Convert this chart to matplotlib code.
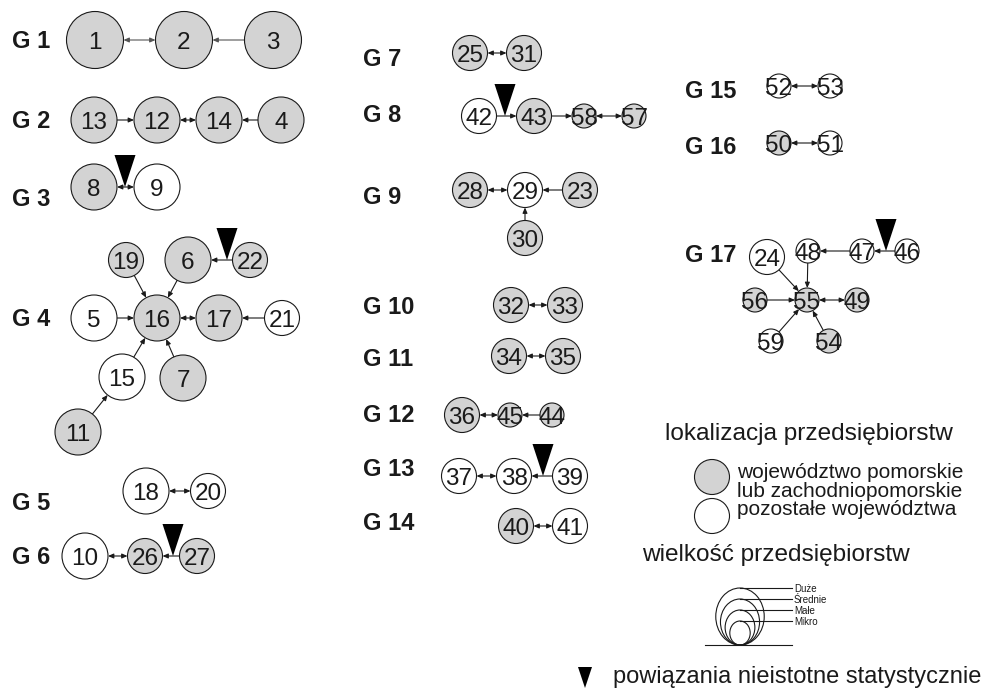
import numpy as np
import matplotlib
matplotlib.use("Agg")
import matplotlib.pyplot as plt
from matplotlib.patches import Circle, Ellipse, FancyArrowPatch, Polygon

plt.rcParams['font.family'] = ['Liberation Sans', 'DejaVu Sans']

# wezly sieci: numer, polozenie (px), wielkosc (D/S/M/K), woj. pomorskie lub zachodniopomorskie
node_id = [1, 2, 3,
           13, 12, 14, 4,
           8, 9,
           19, 6, 22, 5, 16, 17, 21, 15, 7, 11,
           18, 20,
           10, 26, 27,
           25, 31,
           42, 43, 58, 57,
           28, 29, 23, 30,
           32, 33,
           34, 35,
           36, 45, 44,
           37, 38, 39,
           40, 41,
           52, 53,
           50, 51,
           24, 48, 47, 46, 55, 56, 49, 59, 54]
node_x = [95, 184, 273,
          94, 157, 219, 281,
          94, 157,
          126, 188, 250, 94, 157, 219, 282, 122, 183, 78,
          146, 208,
          85, 145, 197,
          470, 524,
          479, 534, 584, 634,
          470, 525, 580, 525,
          511, 565,
          509, 563,
          462, 510, 552,
          459, 514, 570,
          516, 570,
          779, 830,
          779, 830,
          767, 808, 862, 907, 807, 755, 857, 771, 829]
node_y = [40, 40, 40,
          120, 120, 120, 120,
          187, 187,
          260, 260, 260, 318, 318, 318, 318, 377, 378, 432,
          491, 491,
          556, 556, 556,
          53, 53,
          116, 116, 116, 116,
          190, 190, 190, 238,
          305, 305,
          356, 356,
          415, 415, 415,
          476, 476, 476,
          526, 526,
          86, 86,
          143, 143,
          257, 251, 251, 251, 300, 300, 300, 341, 341]
node_size = list("DDD" "SSSS" "SS" "MSMSSSMSSS" "SM" "SMM" "MM" "MMKK" "MMMM"
                 "MM" "MM" "MKK" "MMM" "MM" "KK" "KK" "MKKKKKKKK")
node_pom = [1, 1, 1,
            1, 1, 1, 1,
            1, 0,
            1, 1, 1, 0, 1, 1, 0, 0, 1, 1,
            0, 0,
            0, 1, 1,
            1, 1,
            0, 1, 1, 1,
            1, 0, 1, 1,
            1, 1,
            1, 1,
            1, 1, 1,
            0, 0, 0,
            1, 0,
            0, 0,
            1, 0,
            0, 0, 0, 0, 1, 1, 1, 0, 1]

# powiazania: skad, dokad, czy dwustronne
edge_src = [1, 3, 13, 12, 4, 8, 19, 6, 22, 5, 16, 21, 15, 7, 11, 18, 10, 27,
            25, 42, 43, 58, 28, 23, 30, 32, 34, 36, 44, 37, 39, 40, 52, 50,
            46, 47, 48, 24, 56, 55, 59, 54]
edge_dst = [2, 2, 12, 14, 14, 9, 16, 16, 6, 16, 17, 17, 16, 16, 15, 20, 26, 26,
            31, 43, 58, 57, 29, 29, 29, 33, 35, 45, 45, 38, 38, 41, 53, 51,
            47, 48, 55, 55, 55, 49, 55, 55]
edge_both = [1, 0, 0, 1, 0, 1, 0, 0, 0, 0, 1, 0, 0, 0, 0, 1, 1, 0,
             1, 0, 0, 1, 1, 0, 0, 1, 1, 1, 0, 1, 0, 1, 1, 1,
             0, 0, 0, 0, 0, 1, 0, 0]

# powiazania nieistotne statystycznie (miedzy wezlami)
weak_pairs = [(8, 9), (22, 6), (27, 26), (42, 43), (39, 38), (46, 47)]
weak_x = [125, 227, 173, 505, 543, 886]

group_names = ["G 1", "G 2", "G 3", "G 4", "G 5", "G 6",
               "G 7", "G 8", "G 9", "G 10", "G 11", "G 12", "G 13", "G 14",
               "G 15", "G 16", "G 17"]
group_x = [12] * 6 + [363] * 8 + [685] * 3
group_y = [40, 120, 198, 318, 502, 555,
           58, 113, 195, 305, 358, 413, 468, 522,
           90, 145, 254]

size_names = ["Duże", "Średnie", "Małe", "Mikro"]
size_codes = ["D", "S", "M", "K"]
size_radius = [28.5, 23, 17.5, 12]

GRAY = "#d3d3d3"
INK = "#1a1a1a"
PX = 100 / 72


def put_text(ax, x, y, s, size, **kw):
    # y = srodek wersalikow
    ax.text(x, y + 0.36 * size * PX, s, fontsize=size, va="baseline", color=INK, **kw)


fig = plt.figure(figsize=(9.92, 6.98), dpi=100)
ax = fig.add_axes([0, 0, 1, 1])
ax.set_xlim(0, 992)
ax.set_ylim(698, 0)
ax.axis("off")

rad = dict(zip(size_codes, size_radius))
pos = {n: (x, y, rad[s]) for n, x, y, s in zip(node_id, node_x, node_y, node_size)}

for a, b, both in zip(edge_src, edge_dst, edge_both):
    xa, ya, ra = pos[a]
    xb, yb, rb = pos[b]
    u = np.array([xb - xa, yb - ya], float)
    u /= np.hypot(*u)
    p1 = (xa + ra * u[0], ya + ra * u[1])
    p2 = (xb - rb * u[0], yb - rb * u[1])
    style = "<|-|>" if both else "-|>"
    col = "#555555" if a in (1, 3) else INK
    ax.add_patch(FancyArrowPatch(p1, p2, arrowstyle=style + ",head_length=0.32,head_width=0.14",
                                 mutation_scale=10, lw=0.8, color=col,
                                 shrinkA=0, shrinkB=0, zorder=1))

for n, x, y, s, pom in zip(node_id, node_x, node_y, node_size, node_pom):
    ax.add_patch(Circle((x, y), rad[s], facecolor=GRAY if pom else "white",
                        edgecolor=INK, lw=0.8, zorder=2))
    put_text(ax, x, y, str(n), 17.5, ha="center", zorder=3)

for (a, b), tx in zip(weak_pairs, weak_x):
    ty = pos[a][1]
    ax.add_patch(Polygon([(tx - 10.5, ty - 32), (tx + 10.5, ty - 32), (tx, ty)],
                         closed=True, color="black", lw=0, zorder=4))

for g, x, y in zip(group_names, group_x, group_y):
    put_text(ax, x, y, g, 17, fontweight="bold", ha="left")

# legenda - lokalizacja
ax.text(665, 440, "lokalizacja przedsiębiorstw", fontsize=17.6, va="baseline", color=INK)
ax.add_patch(Circle((712, 477), 17.5, facecolor=GRAY, edgecolor=INK, lw=0.8))
ax.add_patch(Circle((712, 516), 17.5, facecolor="white", edgecolor=INK, lw=0.8))
for txt, yb in zip(["województwo pomorskie", "lub zachodniopomorskie", "pozostałe województwa"],
                   [478, 497, 515]):
    ax.text(737, yb, txt, fontsize=15, va="baseline", color=INK)

# legenda - wielkosc
ax.text(642, 561, "wielkość przedsiębiorstw", fontsize=17.6, va="baseline", color=INK)
base_y = 645
ax.plot([705, 792], [base_y, base_y], color=INK, lw=0.8)
for name, r in zip(size_names, size_radius):
    top = base_y - 2 * r
    ax.add_patch(Ellipse((740, base_y - r), 2 * r * 0.85, 2 * r, facecolor="none",
                         edgecolor=INK, lw=0.8))
    ax.plot([740, 792], [top, top], color=INK, lw=0.8)
    ax.text(794, top + 1, name, fontsize=7, va="center", color=INK)

# legenda - powiazania nieistotne
ax.add_patch(Polygon([(578, 667), (592, 667), (585, 688)], closed=True, color="black", lw=0))
ax.text(613, 683, "powiązania nieistotne statystycznie", fontsize=17, va="baseline", color=INK)

fig.savefig("out.png", dpi=100)
